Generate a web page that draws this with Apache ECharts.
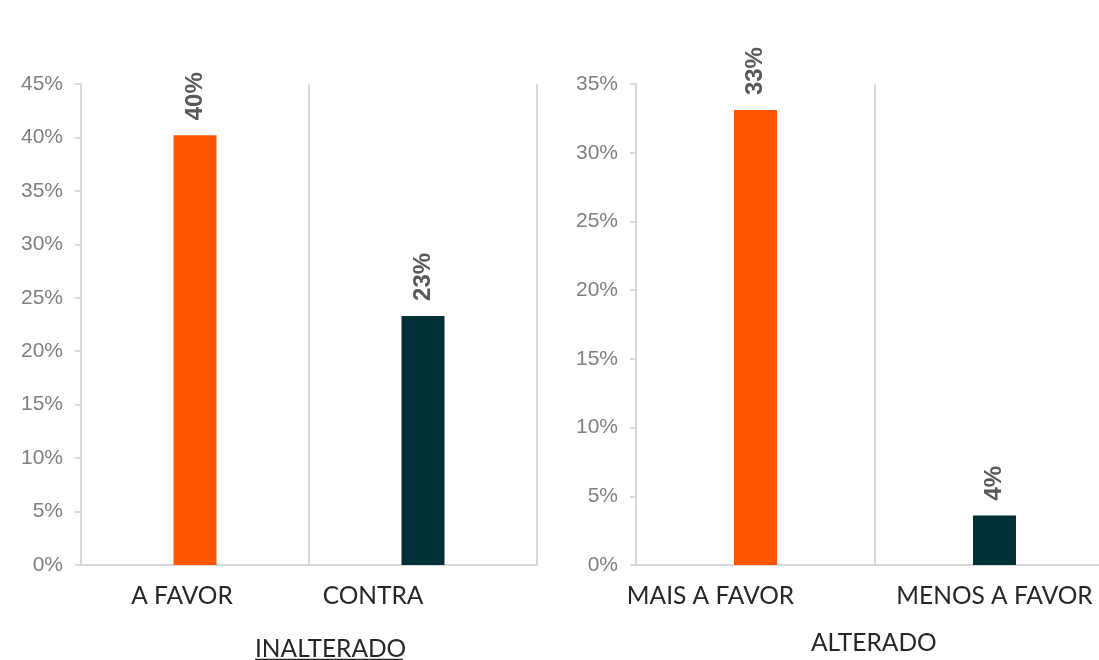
<!DOCTYPE html>
<html>
<head>
<meta charset="utf-8">
<script src="https://cdn.jsdelivr.net/npm/echarts@6/dist/echarts.min.js"></script>
<style>
  html, body { margin: 0; padding: 0; background: #fff; overflow: hidden; }
  /* 右图的类目区间超出画面右缘，因此容器比窗口略宽 */
  #chart { width: 1114px; height: 660px; }
</style>
</head>
<body>
<div id="chart"></div>
<script>
// 左图：未改变
const leftCategories = ['A FAVOR', 'CONTRA']
const leftValues = [40.2, 23.3]
const leftTitle = 'INALTERADO'
// 右图：改变
const rightCategories = ['MAIS A FAVOR', 'MENOS A FAVOR']
const rightValues = [33.1, 3.6]
const rightTitle = 'ALTERADO'

const ORANGE = '#FF5500'
const TEAL = '#012F38'
const barColors = [ORANGE, TEAL]
// 类目标签的水平偏移（原图标签未居中于柱子）
const leftLabelShift = [26, 100]
const rightLabelShift = [90, 0]

const chart = echarts.init(document.getElementById('chart'))

function catData (cats, shifts) {
  return cats.map((c, i) => ({ value: c, textStyle: { padding: [0, shifts[i], 0, 0] } }))
}

function xAxisCfg (gridIndex, cats, shifts) {
  return {
    type: 'category',
    gridIndex: gridIndex,
    data: catData(cats, shifts),
    axisLine: { lineStyle: { color: '#D9D9D9', width: 2 } },
    axisTick: { show: false },
    splitLine: { show: true, lineStyle: { color: '#D9D9D9', width: 2 } },
    axisLabel: {
      color: '#262626',
      fontFamily: 'Lato',
      fontSize: 24.5,
      margin: 19,
      interval: 0
    }
  }
}

function yAxisCfg (gridIndex, max) {
  return {
    type: 'value',
    gridIndex: gridIndex,
    min: 0,
    max: max,
    interval: 5,
    axisLine: { show: true, lineStyle: { color: '#D9D9D9', width: 2 } },
    axisTick: { show: true, length: 6, lineStyle: { color: '#D9D9D9', width: 2 } },
    splitLine: { show: false },
    axisLabel: {
      color: '#7F7F7F',
      fontFamily: 'Liberation Sans',
      fontSize: 21,
      margin: 18,
      formatter: '{value}%'
    }
  }
}

function barSeries (idx, values) {
  return {
    type: 'bar',
    xAxisIndex: idx,
    yAxisIndex: idx,
    barWidth: 43,
    data: values.map((v, i) => ({ value: v, itemStyle: { color: barColors[i] } })),
    label: {
      show: true,
      position: 'top',
      rotate: 90,
      align: 'left',
      verticalAlign: 'middle',
      distance: 15,
      color: '#595959',
      fontFamily: 'Liberation Sans',
      fontWeight: 'bold',
      fontSize: 24,
      formatter: p => Math.round(p.value) + '%'
    }
  }
}

chart.setOption({
  animation: false,
  grid: [
    { left: 81, width: 456, top: 84, bottom: 95 },
    { left: 636, width: 478, top: 84, bottom: 95 }
  ],
  xAxis: [
    xAxisCfg(0, leftCategories, leftLabelShift),
    xAxisCfg(1, rightCategories, rightLabelShift)
  ],
  yAxis: [yAxisCfg(0, 45), yAxisCfg(1, 35)],
  series: [barSeries(0, leftValues), barSeries(1, rightValues)],
  graphic: [
    {
      type: 'text',
      left: 255,
      top: 637,
      style: { text: leftTitle, fontFamily: 'Lato', fontSize: 24.5, fill: '#262626' }
    },
    {
      type: 'line',
      shape: { x1: 255, y1: 659.5, x2: 403, y2: 659.5 },
      style: { stroke: '#262626', lineWidth: 1.5 }
    },
    {
      type: 'text',
      left: 811,
      top: 631,
      style: { text: rightTitle, fontFamily: 'Lato', fontSize: 24.5, fill: '#262626' }
    }
  ]
})
</script>
</body>
</html>
